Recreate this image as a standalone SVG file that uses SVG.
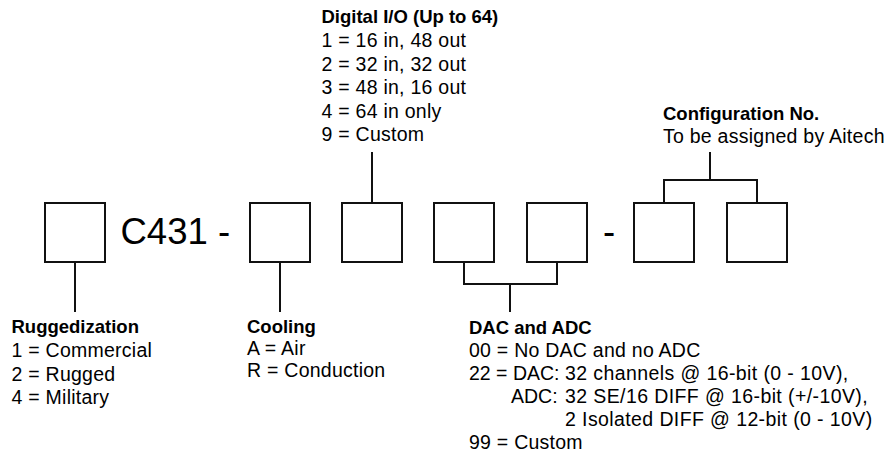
<svg xmlns="http://www.w3.org/2000/svg" width="889" height="457" viewBox="0 0 889 457">
<style>
.t{font-family:"Liberation Sans",Arial,sans-serif;font-size:19.5px;letter-spacing:0.25px;fill:#000}
.w{letter-spacing:0.4px}
.n{letter-spacing:0}
.h{font-family:"Liberation Sans",Arial,sans-serif;font-size:18.5px;font-weight:bold;fill:#000}
.big{font-family:"Liberation Sans",Arial,sans-serif;font-size:36.5px;fill:#000}
.box{fill:#fff;stroke:#111;stroke-width:2}
.c{fill:none;stroke:#111;stroke-width:2}
</style>
<rect width="889" height="457" fill="#fff"/>
<g id="connectors">
<path class="c" d="M75,263V312"/>
<path class="c" d="M280,263V312"/>
<path class="c" d="M372,152V202"/>
<path class="c" d="M464,263V284H557V263M510,284V312"/>
<path class="c" d="M710,152V180M664,202V180H757V202"/>
</g>
<g id="box-ruggedization"><rect class="box" x="45" y="203" width="60" height="59"/></g>
<g id="label-c431"><text class="big" x="120.5" y="244">C431 -</text></g>
<g id="box-cooling"><rect class="box" x="250" y="203" width="60" height="59"/></g>
<g id="box-digital"><rect class="box" x="342" y="203" width="60" height="59"/></g>
<g id="box-dac1"><rect class="box" x="434" y="203" width="60" height="59"/></g>
<g id="box-dac2"><rect class="box" x="527" y="203" width="60" height="59"/></g>
<g id="label-dash"><text class="big" x="603" y="244">-</text></g>
<g id="box-config1"><rect class="box" x="634" y="203" width="60" height="59"/></g>
<g id="box-config2"><rect class="box" x="727" y="203" width="60" height="59"/></g>
<g id="digital-io">
<text class="h" x="321.5" y="23">Digital I/O (Up to 64)</text>
<text class="t" x="321.5" y="47">1 = 16 in, 48 out</text>
<text class="t" x="321.5" y="70.5">2 = 32 in, 32 out</text>
<text class="t" x="321.5" y="94">3 = 48 in, 16 out</text>
<text class="t" x="321.5" y="117.5">4 = 64 in only</text>
<text class="t" x="321.5" y="141">9 = Custom</text>
</g>
<g id="configuration">
<text class="h" x="663" y="120">Configuration No.</text>
<text class="t" x="663" y="143">To be assigned by Aitech</text>
</g>
<g id="ruggedization">
<text class="h" x="11.5" y="333">Ruggedization</text>
<text class="t" x="11.5" y="357">1 = Commercial</text>
<text class="t" x="11.5" y="380.5">2 = Rugged</text>
<text class="t" x="11.5" y="404">4 = Military</text>
</g>
<g id="cooling">
<text class="h" x="247" y="333">Cooling</text>
<text class="t" x="247" y="355">A = Air</text>
<text class="t" x="247" y="377">R = Conduction</text>
</g>
<g id="dac-adc">
<text class="h" x="469" y="334">DAC and ADC</text>
<text class="t" x="469" y="356.5">00 = No DAC and no ADC</text>
<text class="t n" x="469" y="379.5">22 = DAC:</text>
<text class="t w" x="565" y="379.5">32 channels @ 16-bit (0 - 10V),</text>
<text class="t n" x="511" y="402.5">ADC:</text>
<text class="t w" x="565" y="402.5">32 SE/16 DIFF @ 16-bit (+/-10V),</text>
<text class="t w" x="565" y="425.5">2 Isolated DIFF @ 12-bit (0 - 10V)</text>
<text class="t" x="469" y="448.5">99 = Custom</text>
</g>
</svg>
